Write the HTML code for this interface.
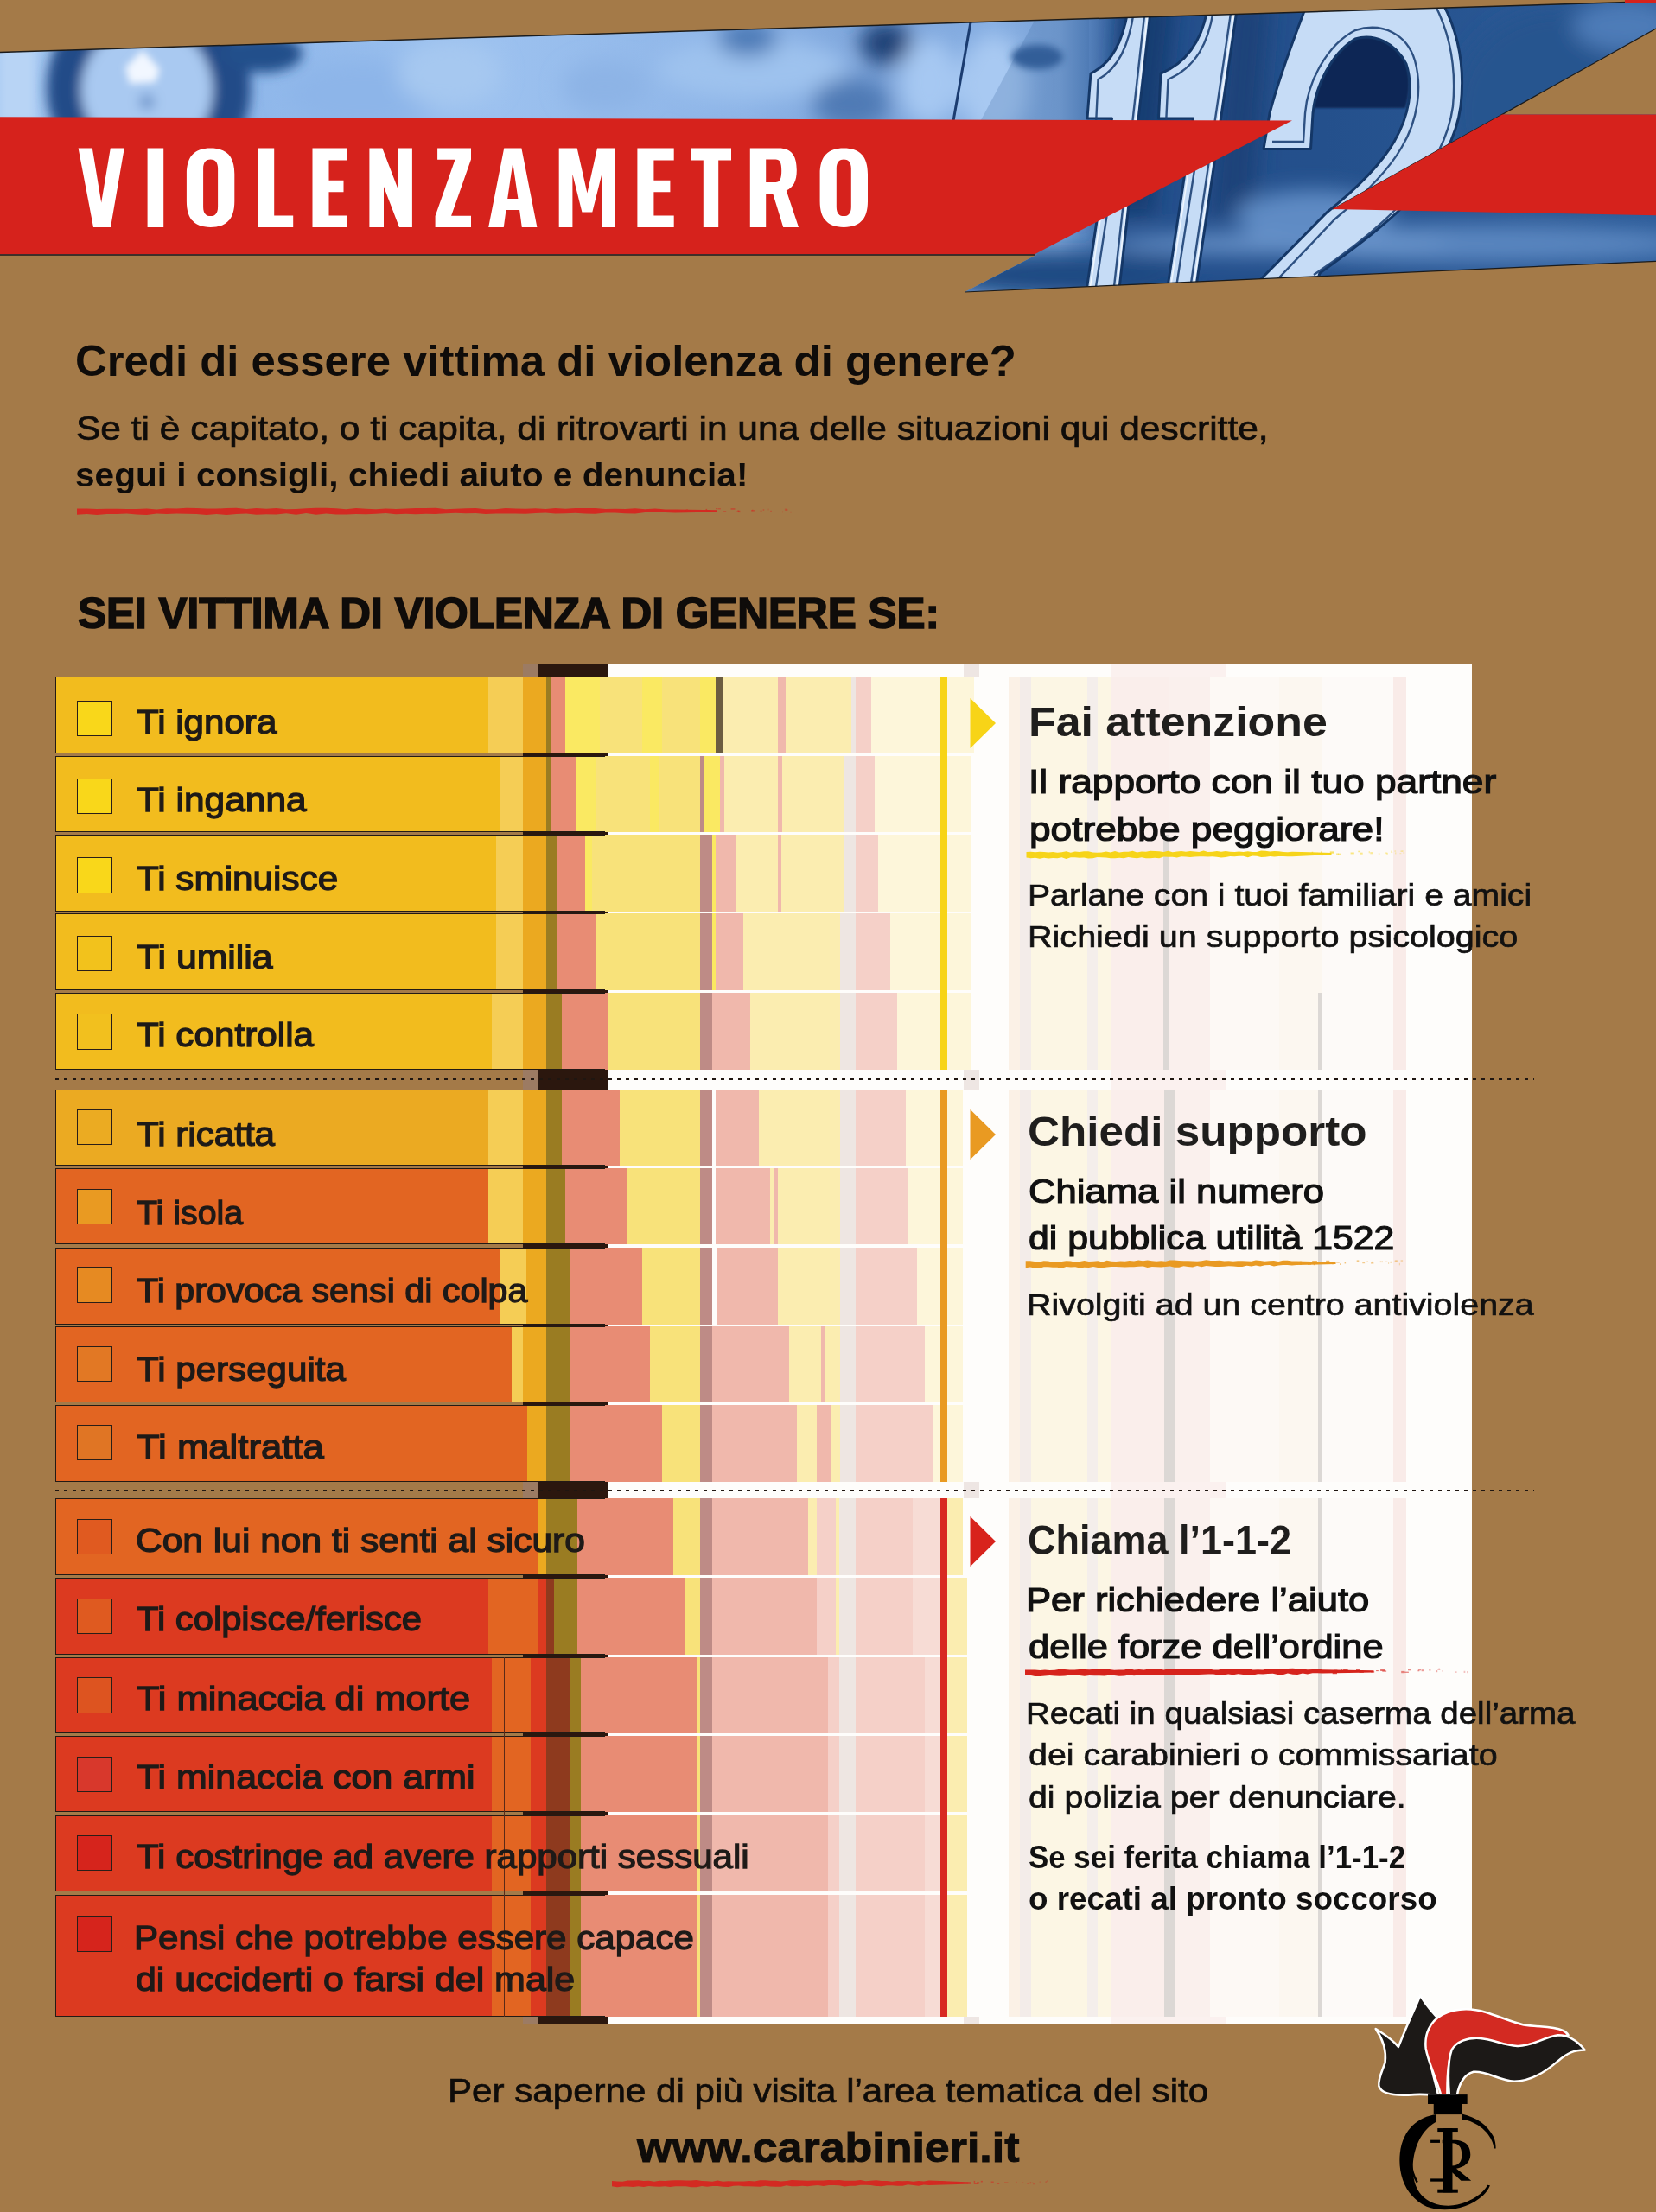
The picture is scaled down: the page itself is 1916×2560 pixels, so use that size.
<!DOCTYPE html><html><head><meta charset="utf-8"><title>Violenzametro</title><style>
html,body{margin:0;padding:0}
body{width:1916px;height:2560px;position:relative;overflow:hidden;background:#A47A48;font-family:"Liberation Sans",sans-serif}
.a{position:absolute}
.t{position:absolute;white-space:nowrap;transform-origin:0 0;line-height:1}
.cb{position:absolute;width:41px;height:41.3px;border:1px solid #2a1e18;box-sizing:border-box}
</style></head><body>
<svg class="a" style="left:0;top:0" width="1916" height="350" viewBox="0 0 1916 350">
<defs>
<clipPath id="bc"><polygon points="0,60.5 1916,1.5 1916,302.3 1116,338 1200,294.5 0,294.5"/></clipPath>
<filter id="bl" x="-30%" y="-30%" width="160%" height="160%"><feGaussianBlur stdDeviation="12"/></filter>
<filter id="bl2" x="-30%" y="-30%" width="160%" height="160%"><feGaussianBlur stdDeviation="4"/></filter>
<filter id="bl4" x="-30%" y="-30%" width="160%" height="160%"><feGaussianBlur stdDeviation="7"/></filter>
<filter id="bl3" x="-30%" y="-30%" width="160%" height="160%"><feGaussianBlur stdDeviation="1.2"/></filter>
<linearGradient id="bg1" x1="0" y1="0" x2="1916" y2="0" gradientUnits="userSpaceOnUse">
<stop offset="0" stop-color="#A9CAF2"/><stop offset="0.15" stop-color="#8FB7EA"/><stop offset="0.3" stop-color="#9CC1EF"/>
<stop offset="0.45" stop-color="#8DB4E7"/><stop offset="0.53" stop-color="#7CA4DA"/><stop offset="0.6" stop-color="#86AEE2"/>
<stop offset="0.64" stop-color="#7AA2D6"/><stop offset="0.655" stop-color="#5A86C0"/><stop offset="0.68" stop-color="#244F8C"/><stop offset="0.8" stop-color="#24508C"/><stop offset="1" stop-color="#2D5C99"/></linearGradient>
</defs>
<g clip-path="url(#bc)">
<rect x="0" y="0" width="1916" height="350" fill="url(#bg1)"/>
<g filter="url(#bl)">
<ellipse cx="420" cy="110" rx="90" ry="40" fill="#8DB5E9"/>
<ellipse cx="520" cy="85" rx="60" ry="40" fill="#A6C8F0"/>
<ellipse cx="700" cy="100" rx="50" ry="30" fill="#8DB4E6"/>
<ellipse cx="870" cy="80" rx="110" ry="35" fill="#9EC2EE"/>
<ellipse cx="865" cy="45" rx="35" ry="20" fill="#4A78B5"/>
<ellipse cx="1025" cy="50" rx="30" ry="25" fill="#1E3F75"/>
<ellipse cx="985" cy="120" rx="45" ry="30" fill="#4F7AB5"/>
<ellipse cx="1075" cy="95" rx="35" ry="50" fill="#A6C8F2"/>
<ellipse cx="1150" cy="100" rx="40" ry="60" fill="#A8C9F2"/>
<ellipse cx="1800" cy="130" rx="120" ry="120" fill="#26558F"/>
<polygon points="1300,0 1360,0 1335,250 1280,250" fill="#163D72"/>
<polygon points="1420,0 1470,0 1450,250 1400,250" fill="#1A4379"/>
<ellipse cx="1880" cy="30" rx="60" ry="30" fill="#4E7CB8"/>
<ellipse cx="1700" cy="282" rx="260" ry="22" fill="#5A86C0"/>
<ellipse cx="1230" cy="318" rx="150" ry="26" fill="#1F4A82"/>
<ellipse cx="1480" cy="282" rx="200" ry="12" fill="#6A94CB"/>
<ellipse cx="1520" cy="250" rx="90" ry="30" fill="#5F8BC4"/>
</g>
<rect x="0" y="40" width="40" height="100" fill="#B8D4F5" filter="url(#bl2)"/>
<g filter="url(#bl4)">
<circle cx="172" cy="102" r="118" fill="#214C88"/>
<ellipse cx="305" cy="62" rx="45" ry="22" fill="#23508B"/>
<circle cx="170" cy="104" r="76" fill="#A9C9F1"/>
<circle cx="170" cy="118" r="9" fill="#6E95CB"/>
</g>
<path d="M145,78 L165,58 L185,80 L180,95 L150,97 Z" fill="#F2F7FF" filter="url(#bl2)"/>
<ellipse cx="1200" cy="66" rx="30" ry="14" fill="#2E5A95" filter="url(#bl2)"/>
<polygon points="1199,20 1260,20 1260,150 1129,150" fill="#3F6AA5" opacity="0.25"/>
<line x1="1103" y1="140" x2="1124" y2="20" stroke="#1B3C70" stroke-width="3"/>
<!-- counter of the 2 -->
<path d="M1519,131 C1522,100 1540,62 1568,45 C1590,38 1615,50 1627,74 C1632,90 1631,110 1626,125 L1520,125 Z" fill="#0C2855" filter="url(#bl3)"/>
<!-- numerals -->
<g stroke="#143767" stroke-width="3" stroke-linejoin="round" fill="#C6DCF6">
<path d="M1255.8,345 L1286.5,137 L1258,137 L1262,85 C1285,74 1300,50 1306,5 L1332,5 L1293.8,345 Z"/>
<path d="M1349,345 L1380.5,137 L1340.5,137 L1343,85 C1375,72 1392,45 1398,5 L1432,5 L1382,345 Z"/>
<path d="M1462,172.4 L1516.5,172.4 L1519,131 C1522,100 1540,62 1568,45 C1590,38 1615,50 1627,74 C1636,102 1630,135 1613,164 C1595,195 1560,226 1535,246 L1452,330 L1448,345 L1518,345 L1527,316 C1570,285 1610,255 1636,226 C1665,195 1685,160 1690,123 C1695,80 1688,40 1670,5 L1512,5 C1500,37 1482,82 1469,131 Z"/>
</g>
<g stroke="#1D4276" stroke-width="2.4" fill="none" opacity="0.9">
<path d="M1266,345 L1296.5,145 L1268,145 L1270.5,92 C1292,80 1307,56 1313,5"/>
<path d="M1359,345 L1390,145 L1349,145 L1351.5,92 C1383,78 1399,51 1405,5"/>
<path d="M1472,164 L1508,164 L1510,131 C1513,95 1535,52 1568,35 C1600,25 1628,40 1637,70 C1646,102 1640,140 1622,170 C1604,202 1568,234 1544,254 L1466,336"/>
<path d="M1520,318 C1562,290 1602,258 1628,228 C1656,196 1676,160 1681,123 C1685,80 1678,40 1660,5"/>
<path d="M1287.5,345 L1325.5,5"/>
<path d="M1375.5,345 L1425.5,5"/>
</g>
<g stroke="#F4F9FF" stroke-width="1.6" fill="none" opacity="0.9">
<path d="M1259.5,345 L1290,140"/>
<path d="M1352.5,345 L1384,140"/>
<path d="M1291,345 L1329,5"/>
<path d="M1379,345 L1429,5"/>
</g>
</g>
<line x1="0" y1="60.5" x2="1916" y2="1.5" stroke="#1b1b1b" stroke-width="1.5"/>
<line x1="1116" y1="338" x2="1916" y2="302.3" stroke="#1b1b1b" stroke-width="1.2"/>
<polygon points="0,135.3 1495,139.6 1196.6,294.5 0,294.5" fill="#D6221C"/>
<line x1="0" y1="295" x2="1197" y2="295" stroke="#1b1b1b" stroke-width="1.5"/>
<polygon points="1738,132.4 1916,33 1916,132.4" fill="#A47A48"/>
<line x1="1542" y1="242" x2="1916" y2="33" stroke="#1b1b1b" stroke-width="1.2"/>
<polygon points="1541.8,242 1738,132.4 1916,132.4 1916,249.3" fill="#D6221C"/>
<rect x="1880" y="0" width="36" height="3" fill="#D6221C"/>
<path transform="translate(90.6,171.6)" d="M0,0 H16.2 L26.6,63 L37.2,0 H53.2 L37.4,91.3 H17.4 Z" fill="#FFFFFF" fill-rule="evenodd"/>
<path transform="translate(170.6,171.6)" d="M0,0 H18.6 V91.3 H0 Z" fill="#FFFFFF" fill-rule="evenodd"/>
<path transform="translate(215.9,171.6)" d="M27.6,0 C46,0 55.4,9 55.4,30 V61.3 C55.4,82 46,91.3 27.7,91.3 C9.4,91.3 0,82 0,61.3 V30 C0,9 9.4,0 27.6,0 Z M27.7,12.8 C32.4,12.8 36.2,15.5 36.2,23.5 V67.8 C36.2,75.8 32.4,78.5 27.7,78.5 C23,78.5 19.2,75.8 19.2,67.8 V23.5 C19.2,15.5 23,12.8 27.7,12.8 Z" fill="#FFFFFF" fill-rule="evenodd"/>
<path transform="translate(298.6,171.6)" d="M0,0 H18.6 V77.8 H40.6 V91.3 H0 Z" fill="#FFFFFF" fill-rule="evenodd"/>
<path transform="translate(361.5,171.6)" d="M0,0 H40.5 V13.8 H19 V37.2 H36 V50.6 H19 V77.8 H40.5 V91.3 H0 Z" fill="#FFFFFF" fill-rule="evenodd"/>
<path transform="translate(427.4,171.6)" d="M0,0 H15 L33,47 V0 H49.5 V91.3 H34.5 L16.6,44.3 V91.3 H0 Z" fill="#FFFFFF" fill-rule="evenodd"/>
<path transform="translate(503.6,171.6)" d="M2.5,0 H41.4 V13 L18.5,78.2 H41.4 V91.3 H0 V78.4 L22.9,13.2 H2.5 Z" fill="#FFFFFF" fill-rule="evenodd"/>
<path transform="translate(565.2,171.6)" d="M0,91.3 L18,0 H38.2 L56.2,91.3 H38.6 L35.9,71.5 H20.3 L17.6,91.3 Z M22,58.5 H34.2 L28.1,17 Z" fill="#FFFFFF" fill-rule="evenodd"/>
<path transform="translate(646.7,171.6)" d="M0,91.3 V0 H21 L32.7,52 L44.3,0 H65.3 V91.3 H49.6 V30 L38.6,74 H26.7 L15.7,30 V91.3 Z" fill="#FFFFFF" fill-rule="evenodd"/>
<path transform="translate(737.4,171.6)" d="M0,0 H42.3 V13.8 H19 V37.2 H38 V50.6 H19 V77.8 H42.3 V91.3 H0 Z" fill="#FFFFFF" fill-rule="evenodd"/>
<path transform="translate(799.0,171.6)" d="M0,0 H47 V13.8 H32.2 V91.3 H14.8 V13.8 H0 Z" fill="#FFFFFF" fill-rule="evenodd"/>
<path transform="translate(867.8,171.6)" d="M0,0 H33 C49,0 54,10 54,25.5 C54,38 50,45.5 42,49 L56.2,91.3 H38.4 L26.4,52.5 H18.4 V91.3 H0 Z M18.4,13 H29.5 C34.5,13 36.4,16.5 36.4,26 C36.4,35.5 34.5,39.5 29.5,39.5 H18.4 Z" fill="#FFFFFF" fill-rule="evenodd"/>
<path transform="translate(948.6,171.6)" d="M27.6,0 C46,0 55.4,9 55.4,30 V61.3 C55.4,82 46,91.3 27.7,91.3 C9.4,91.3 0,82 0,61.3 V30 C0,9 9.4,0 27.6,0 Z M27.7,12.8 C32.4,12.8 36.2,15.5 36.2,23.5 V67.8 C36.2,75.8 32.4,78.5 27.7,78.5 C23,78.5 19.2,75.8 19.2,67.8 V23.5 C19.2,15.5 23,12.8 27.7,12.8 Z" fill="#FFFFFF" fill-rule="evenodd"/>
</svg>
<svg class="a" style="left:0;top:0" width="1916" height="2560" viewBox="0 0 1916 2560" >
<polygon points="89.0,588.6 100.5,588.5 112.1,589.1 123.6,588.8 135.1,588.8 146.7,589.0 158.2,589.0 169.7,588.5 181.3,589.4 192.8,588.2 204.3,588.4 215.9,587.8 227.4,588.0 238.9,588.4 250.5,588.6 262.0,588.1 273.5,587.8 285.1,589.0 296.6,588.0 308.1,588.7 319.7,588.1 331.2,589.3 342.7,588.9 354.3,588.2 365.8,587.7 377.3,587.8 388.9,588.3 400.4,589.3 411.9,588.0 423.5,588.8 435.0,589.2 446.5,588.5 458.1,589.1 469.6,588.6 481.1,588.1 492.7,587.9 504.2,587.8 515.7,589.3 527.3,588.8 538.8,588.2 550.3,587.9 561.9,589.3 573.4,589.2 584.9,588.0 596.5,588.4 608.0,588.7 619.5,588.3 631.1,588.9 642.6,587.9 654.1,588.7 665.7,587.9 677.2,588.0 688.7,588.0 700.3,588.9 711.8,588.7 723.3,588.9 734.9,588.3 746.4,589.3 757.9,588.5 769.5,589.5 781.0,589.4 830.0,590.2 830.0,592.4 781.0,593.5 769.5,593.0 757.9,593.1 746.4,593.1 734.9,594.4 723.3,594.2 711.8,593.4 700.3,593.4 688.7,594.8 677.2,594.5 665.7,593.7 654.1,594.3 642.6,594.6 631.1,593.5 619.5,594.1 608.0,594.8 596.5,594.6 584.9,594.5 573.4,594.6 561.9,595.1 550.3,593.9 538.8,594.2 527.3,593.7 515.7,594.2 504.2,595.0 492.7,594.7 481.1,595.3 469.6,594.8 458.1,595.2 446.5,594.1 435.0,594.7 423.5,595.3 411.9,594.9 400.4,595.4 388.9,595.6 377.3,594.6 365.8,595.7 354.3,594.0 342.7,595.8 331.2,594.2 319.7,595.4 308.1,595.2 296.6,595.7 285.1,594.5 273.5,595.1 262.0,595.9 250.5,595.1 238.9,595.9 227.4,595.1 215.9,594.8 204.3,594.6 192.8,594.9 181.3,594.6 169.7,596.0 158.2,595.4 146.7,594.6 135.1,594.9 123.6,595.1 112.1,595.9 100.5,594.9 89.0,595.8" fill="#D32A22"/><rect x="905.0" y="591.4" width="0.8" height="1.9" fill="#D32A22" opacity="0.32"/><rect x="852.0" y="591.6" width="2.4" height="1.2" fill="#D32A22" opacity="0.55"/><rect x="793.8" y="590.6" width="5.3" height="2.2" fill="#D32A22" opacity="0.80"/><rect x="783.2" y="591.3" width="5.1" height="1.2" fill="#D32A22" opacity="0.84"/><rect x="882.7" y="589.1" width="1.5" height="1.8" fill="#D32A22" opacity="0.41"/><rect x="854.0" y="590.9" width="2.4" height="2.2" fill="#D32A22" opacity="0.54"/><rect x="907.9" y="588.6" width="2.6" height="2.2" fill="#D32A22" opacity="0.31"/><rect x="879.6" y="590.6" width="1.9" height="1.8" fill="#D32A22" opacity="0.43"/><rect x="888.7" y="588.7" width="0.8" height="1.7" fill="#D32A22" opacity="0.39"/><rect x="914.5" y="591.7" width="1.0" height="2.3" fill="#D32A22" opacity="0.28"/><rect x="870.0" y="589.7" width="1.3" height="1.6" fill="#D32A22" opacity="0.47"/><rect x="818.8" y="590.1" width="1.9" height="1.1" fill="#D32A22" opacity="0.69"/><rect x="816.6" y="588.9" width="1.5" height="1.3" fill="#D32A22" opacity="0.70"/><rect x="828.2" y="588.0" width="1.8" height="1.2" fill="#D32A22" opacity="0.65"/><rect x="908.6" y="588.4" width="0.8" height="2.3" fill="#D32A22" opacity="0.30"/><rect x="788.2" y="591.4" width="3.7" height="1.6" fill="#D32A22" opacity="0.82"/><rect x="817.2" y="590.9" width="5.6" height="1.7" fill="#D32A22" opacity="0.70"/><rect x="793.8" y="589.5" width="2.2" height="1.7" fill="#D32A22" opacity="0.80"/><rect x="830.5" y="588.3" width="3.4" height="1.0" fill="#D32A22" opacity="0.64"/><rect x="853.2" y="590.5" width="2.1" height="1.3" fill="#D32A22" opacity="0.54"/><rect x="837.1" y="591.3" width="3.0" height="1.7" fill="#D32A22" opacity="0.61"/><rect x="909.4" y="589.0" width="2.1" height="2.0" fill="#D32A22" opacity="0.30"/><rect x="869.0" y="590.0" width="4.2" height="1.6" fill="#D32A22" opacity="0.47"/><rect x="845.6" y="588.1" width="4.8" height="1.6" fill="#D32A22" opacity="0.57"/><rect x="891.1" y="590.8" width="1.9" height="2.0" fill="#D32A22" opacity="0.38"/><rect x="783.2" y="590.3" width="1.6" height="1.9" fill="#D32A22" opacity="0.84"/>
</svg>
<div class="a" style="left:605px;top:767.7px;width:1098px;height:1575.3px;background:#FEFDFB"></div>
<div class="a" style="left:605px;top:767.7px;width:98px;height:1575.3px;background:#2B170E"></div>
<div class="a" style="left:1096px;top:767.7px;width:607px;height:1575.3px;background:linear-gradient(90deg,#FEFDFB 0.0px 31.0px,#FEFDFB 31.0px 71.0px,#FBF1E6 71.0px 84.0px,#F3ECE9 84.0px 97.0px,#FCF6E4 97.0px 162.0px,#F4EEEB 162.0px 174.0px,#FCF6E4 174.0px 189.0px,#FAEEEB 189.0px 249.0px,#FAEEEB 249.0px 256.0px,#FAF0ED 256.0px 304.0px,#FDF9F5 304.0px 384.0px,#FCF7F0 384.0px 429.0px,#FCF7F0 429.0px 434.0px,#FDFAF8 434.0px 516.0px,#F9EBE8 516.0px 531.0px,#FEFDFB 531.0px 607.0px)"></div>
<div class="a" style="left:605px;top:767.7px;width:18px;height:15.5px;background:#9C7B63"></div>
<div class="a" style="left:623px;top:767.7px;width:80px;height:15.5px;background:#2B170E"></div>
<div class="a" style="left:703px;top:767.7px;width:1000px;height:15.5px;background:#FEFDFB"></div>
<div class="a" style="left:1115px;top:767.7px;width:18px;height:15.5px;background:#EEE6E3"></div>
<div class="a" style="left:1285px;top:767.7px;width:133px;height:15.5px;background:#FBF1EF"></div>
<div class="a" style="left:605px;top:1237.7px;width:18px;height:23.0px;background:#9C7B63"></div>
<div class="a" style="left:623px;top:1237.7px;width:80px;height:23.0px;background:#2B170E"></div>
<div class="a" style="left:703px;top:1237.7px;width:1000px;height:23.0px;background:#FEFDFB"></div>
<div class="a" style="left:1115px;top:1237.7px;width:18px;height:23.0px;background:#EEE6E3"></div>
<div class="a" style="left:1285px;top:1237.7px;width:133px;height:23.0px;background:#FBF1EF"></div>
<div class="a" style="left:605px;top:1715.3px;width:18px;height:18.600000000000136px;background:#9C7B63"></div>
<div class="a" style="left:623px;top:1715.3px;width:80px;height:18.600000000000136px;background:#2B170E"></div>
<div class="a" style="left:703px;top:1715.3px;width:1000px;height:18.600000000000136px;background:#FEFDFB"></div>
<div class="a" style="left:1115px;top:1715.3px;width:18px;height:18.600000000000136px;background:#EEE6E3"></div>
<div class="a" style="left:1285px;top:1715.3px;width:133px;height:18.600000000000136px;background:#FBF1EF"></div>
<div class="a" style="left:605px;top:2333.7px;width:18px;height:9.300000000000182px;background:#9C7B63"></div>
<div class="a" style="left:623px;top:2333.7px;width:80px;height:9.300000000000182px;background:#2B170E"></div>
<div class="a" style="left:703px;top:2333.7px;width:1000px;height:9.300000000000182px;background:#FEFDFB"></div>
<div class="a" style="left:1115px;top:2333.7px;width:18px;height:9.300000000000182px;background:#EEE6E3"></div>
<div class="a" style="left:1285px;top:2333.7px;width:133px;height:9.300000000000182px;background:#FBF1EF"></div>
<div class="a" style="left:64px;top:783.0px;width:1063px;height:89.39999999999998px;background:linear-gradient(90deg,#F2BC1E 0.0px 501.0px,#F5CD55 501.0px 541.0px,#EBA920 541.0px 568.0px,#9A7C22 568.0px 573.0px,#E88C74 573.0px 590.0px,#FAE962 590.0px 630.0px,#F8E27A 630.0px 679.0px,#FAE962 679.0px 702.0px,#F8E27A 702.0px 746.0px,#FAE962 746.0px 764.0px,#6C5D40 764.0px 773.0px,#FBEDB0 773.0px 836.0px,#F0B8AC 836.0px 845.0px,#FBEDB0 845.0px 921.0px,#EEE6E2 921.0px 926.0px,#F5D0C8 926.0px 944.0px,#FDF6DA 944.0px 1024.0px,#F7D417 1024.0px 1032.0px,#FDF6DA 1032.0px 1063.0px)"></div>
<div class="a" style="left:64px;top:783.0px;width:636px;height:89.39999999999998px;border:1.3px solid #231a15;border-right:none;box-sizing:border-box"></div>
<div class="a" style="left:64px;top:875.2px;width:1059px;height:88.09999999999991px;background:linear-gradient(90deg,#F2BC1E 0.0px 514.0px,#F5CD55 514.0px 541.0px,#EBA920 541.0px 568.0px,#9A7C22 568.0px 573.0px,#E88C74 573.0px 603.0px,#FAE962 603.0px 626.0px,#F8E27A 626.0px 688.0px,#FAE962 688.0px 698.0px,#F8E27A 698.0px 746.0px,#BE8B86 746.0px 751.0px,#FAE962 751.0px 769.0px,#F0B8AC 769.0px 774.0px,#FBEDB0 774.0px 836.0px,#F0B8AC 836.0px 841.0px,#FBEDB0 841.0px 912.0px,#EEE6E2 912.0px 926.0px,#F5D0C8 926.0px 948.0px,#FDF6DA 948.0px 1024.0px,#F7D417 1024.0px 1032.0px,#FDF6DA 1032.0px 1059.0px)"></div>
<div class="a" style="left:64px;top:875.2px;width:636px;height:88.09999999999991px;border:1.3px solid #231a15;border-right:none;box-sizing:border-box"></div>
<div class="a" style="left:64px;top:966.4px;width:1059px;height:88.60000000000002px;background:linear-gradient(90deg,#F2BC1E 0.0px 510.0px,#F5CD55 510.0px 541.0px,#EBA920 541.0px 568.0px,#9A7C22 568.0px 581.0px,#E88C74 581.0px 613.0px,#FAE962 613.0px 621.0px,#F8E27A 621.0px 746.0px,#BE8B86 746.0px 760.0px,#FAE962 760.0px 764.0px,#F0B8AC 764.0px 787.0px,#FBEDB0 787.0px 836.0px,#F0B8AC 836.0px 840.0px,#FBEDB0 840.0px 912.0px,#EEE6E2 912.0px 926.0px,#F5D0C8 926.0px 952.0px,#FDF6DA 952.0px 1024.0px,#F7D417 1024.0px 1032.0px,#FDF6DA 1032.0px 1059.0px)"></div>
<div class="a" style="left:64px;top:966.4px;width:636px;height:88.60000000000002px;border:1.3px solid #231a15;border-right:none;box-sizing:border-box"></div>
<div class="a" style="left:64px;top:1057.4px;width:1059px;height:88.79999999999995px;background:linear-gradient(90deg,#F2BC1E 0.0px 510.0px,#F5CD55 510.0px 541.0px,#EBA920 541.0px 568.0px,#9A7C22 568.0px 581.0px,#E88C74 581.0px 626.0px,#F8E27A 626.0px 746.0px,#BE8B86 746.0px 760.0px,#FAE962 760.0px 764.0px,#F0B8AC 764.0px 796.0px,#FBEDB0 796.0px 908.0px,#EEE6E2 908.0px 926.0px,#F5D0C8 926.0px 966.0px,#FDF6DA 966.0px 1024.0px,#F7D417 1024.0px 1032.0px,#FDF6DA 1032.0px 1059.0px)"></div>
<div class="a" style="left:64px;top:1057.4px;width:636px;height:88.79999999999995px;border:1.3px solid #231a15;border-right:none;box-sizing:border-box"></div>
<div class="a" style="left:64px;top:1149.0px;width:1059px;height:88.70000000000005px;background:linear-gradient(90deg,#F2BC1E 0.0px 505.0px,#F5CD55 505.0px 541.0px,#EBA920 541.0px 568.0px,#9A7C22 568.0px 586.0px,#E88C74 586.0px 639.0px,#F8E27A 639.0px 746.0px,#BE8B86 746.0px 760.0px,#F0B8AC 760.0px 804.0px,#FBEDB0 804.0px 908.0px,#EEE6E2 908.0px 926.0px,#F5D0C8 926.0px 974.0px,#FDF6DA 974.0px 1024.0px,#F7D417 1024.0px 1032.0px,#FDF6DA 1032.0px 1059.0px)"></div>
<div class="a" style="left:64px;top:1149.0px;width:636px;height:88.70000000000005px;border:1.3px solid #231a15;border-right:none;box-sizing:border-box"></div>
<div class="a" style="left:64px;top:1260.7px;width:1050px;height:88.59999999999991px;background:linear-gradient(90deg,#EBAA22 0.0px 501.0px,#F5CD55 501.0px 541.0px,#EBA920 541.0px 568.0px,#9A7C22 568.0px 586.0px,#E88C74 586.0px 653.0px,#F8E27A 653.0px 746.0px,#BE8B86 746.0px 760.0px,#FEFDFB 760.0px 764.0px,#F0B8AC 764.0px 814.0px,#FBEDB0 814.0px 908.0px,#EEE6E2 908.0px 926.0px,#F5D0C8 926.0px 984.0px,#FDF6DA 984.0px 1024.0px,#E99A22 1024.0px 1032.0px,#FDF6DA 1032.0px 1050.0px)"></div>
<div class="a" style="left:64px;top:1260.7px;width:636px;height:88.59999999999991px;border:1.3px solid #231a15;border-right:none;box-sizing:border-box"></div>
<div class="a" style="left:64px;top:1352.4px;width:1050px;height:88.09999999999991px;background:linear-gradient(90deg,#E26522 0.0px 501.0px,#F5CD55 501.0px 541.0px,#EBA920 541.0px 568.0px,#9A7C22 568.0px 590.0px,#E88C74 590.0px 662.0px,#F8E27A 662.0px 746.0px,#BE8B86 746.0px 760.0px,#FEFDFB 760.0px 764.0px,#F0B8AC 764.0px 827.0px,#FBEDB0 827.0px 831.0px,#F0B8AC 831.0px 836.0px,#FBEDB0 836.0px 908.0px,#EEE6E2 908.0px 926.0px,#F5D0C8 926.0px 987.0px,#FDF6DA 987.0px 1024.0px,#E99A22 1024.0px 1032.0px,#FDF6DA 1032.0px 1050.0px)"></div>
<div class="a" style="left:64px;top:1352.4px;width:636px;height:88.09999999999991px;border:1.3px solid #231a15;border-right:none;box-sizing:border-box"></div>
<div class="a" style="left:64px;top:1443.6px;width:1050px;height:89.10000000000014px;background:linear-gradient(90deg,#E26522 0.0px 514.0px,#F5CD55 514.0px 545.0px,#EBA920 545.0px 568.0px,#9A7C22 568.0px 595.0px,#E88C74 595.0px 679.0px,#F8E27A 679.0px 746.0px,#BE8B86 746.0px 760.0px,#FEFDFB 760.0px 765.0px,#F0B8AC 765.0px 836.0px,#FBEDB0 836.0px 908.0px,#EEE6E2 908.0px 926.0px,#F5D0C8 926.0px 997.0px,#FDF6DA 997.0px 1024.0px,#E99A22 1024.0px 1032.0px,#FDF6DA 1032.0px 1050.0px)"></div>
<div class="a" style="left:64px;top:1443.6px;width:636px;height:89.10000000000014px;border:1.3px solid #231a15;border-right:none;box-sizing:border-box"></div>
<div class="a" style="left:64px;top:1535.0px;width:1050px;height:88.20000000000005px;background:linear-gradient(90deg,#E26522 0.0px 528.0px,#F5CD55 528.0px 541.0px,#EBA920 541.0px 568.0px,#9A7C22 568.0px 595.0px,#E88C74 595.0px 688.0px,#F8E27A 688.0px 746.0px,#BE8B86 746.0px 760.0px,#F0B8AC 760.0px 849.0px,#FBEDB0 849.0px 886.0px,#F0B8AC 886.0px 891.0px,#FBEDB0 891.0px 908.0px,#EEE6E2 908.0px 926.0px,#F5D0C8 926.0px 1006.0px,#FDF6DA 1006.0px 1024.0px,#E99A22 1024.0px 1032.0px,#FDF6DA 1032.0px 1050.0px)"></div>
<div class="a" style="left:64px;top:1535.0px;width:636px;height:88.20000000000005px;border:1.3px solid #231a15;border-right:none;box-sizing:border-box"></div>
<div class="a" style="left:64px;top:1626.2px;width:1050px;height:89.09999999999991px;background:linear-gradient(90deg,#E26522 0.0px 546.0px,#EBA920 546.0px 568.0px,#9A7C22 568.0px 595.0px,#E88C74 595.0px 702.0px,#F8E27A 702.0px 746.0px,#BE8B86 746.0px 760.0px,#F0B8AC 760.0px 858.0px,#FBEDB0 858.0px 881.0px,#F0B8AC 881.0px 898.0px,#FBEDB0 898.0px 908.0px,#EEE6E2 908.0px 926.0px,#F5D0C8 926.0px 1015.0px,#FDF6DA 1015.0px 1024.0px,#E99A22 1024.0px 1032.0px,#FDF6DA 1032.0px 1050.0px)"></div>
<div class="a" style="left:64px;top:1626.2px;width:636px;height:89.09999999999991px;border:1.3px solid #231a15;border-right:none;box-sizing:border-box"></div>
<div class="a" style="left:64px;top:1733.9px;width:1050px;height:89.39999999999986px;background:linear-gradient(90deg,#E26522 0.0px 559.0px,#EBA920 559.0px 568.0px,#9A7C22 568.0px 604.0px,#E88C74 604.0px 715.0px,#F8E27A 715.0px 746.0px,#BE8B86 746.0px 760.0px,#F0B8AC 760.0px 871.0px,#FBEDB0 871.0px 881.0px,#F5D0C8 881.0px 903.0px,#FBEDB0 903.0px 907.0px,#EEE6E2 907.0px 926.0px,#F5D0C8 926.0px 992.0px,#F7DCD5 992.0px 1024.0px,#D82A22 1024.0px 1032.0px,#FBEDB0 1032.0px 1050.0px)"></div>
<div class="a" style="left:64px;top:1733.9px;width:636px;height:89.39999999999986px;border:1.3px solid #231a15;border-right:none;box-sizing:border-box"></div>
<div class="a" style="left:64px;top:1826.1px;width:1055px;height:88.70000000000005px;background:linear-gradient(90deg,#DC3A20 0.0px 501.0px,#E26522 501.0px 558.0px,#DC3A20 558.0px 568.0px,#8E3A1E 568.0px 577.0px,#9A7C22 577.0px 604.0px,#E88C74 604.0px 729.0px,#F8E27A 729.0px 746.0px,#BE8B86 746.0px 760.0px,#F0B8AC 760.0px 881.0px,#F5D0C8 881.0px 903.0px,#FBEDB0 903.0px 907.0px,#EEE6E2 907.0px 926.0px,#F5D0C8 926.0px 992.0px,#F7DCD5 992.0px 1024.0px,#D82A22 1024.0px 1032.0px,#FBEDB0 1032.0px 1055.0px)"></div>
<div class="a" style="left:64px;top:1826.1px;width:636px;height:88.70000000000005px;border:1.3px solid #231a15;border-right:none;box-sizing:border-box"></div>
<div class="a" style="left:64px;top:1917.6px;width:1055px;height:88.0px;background:linear-gradient(90deg,#DC3A20 0.0px 505.0px,#E26522 505.0px 550.0px,#DC3A20 550.0px 568.0px,#8E3A1E 568.0px 595.0px,#9A7C22 595.0px 608.0px,#E88C74 608.0px 742.0px,#F8E27A 742.0px 746.0px,#BE8B86 746.0px 760.0px,#F0B8AC 760.0px 894.0px,#F5D0C8 894.0px 907.0px,#EEE6E2 907.0px 926.0px,#F5D0C8 926.0px 1006.0px,#F7DCD5 1006.0px 1024.0px,#D82A22 1024.0px 1032.0px,#FBEDB0 1032.0px 1055.0px)"></div>
<div class="a" style="left:64px;top:1917.6px;width:636px;height:88.0px;border:1.3px solid #231a15;border-right:none;box-sizing:border-box"></div>
<div class="a" style="left:64px;top:2009.4px;width:1055px;height:87.90000000000009px;background:linear-gradient(90deg,#DC3A20 0.0px 505.0px,#E26522 505.0px 550.0px,#DC3A20 550.0px 568.0px,#8E3A1E 568.0px 595.0px,#9A7C22 595.0px 608.0px,#E88C74 608.0px 742.0px,#F8E27A 742.0px 746.0px,#BE8B86 746.0px 760.0px,#F0B8AC 760.0px 894.0px,#F5D0C8 894.0px 907.0px,#EEE6E2 907.0px 926.0px,#F5D0C8 926.0px 1006.0px,#F7DCD5 1006.0px 1024.0px,#D82A22 1024.0px 1032.0px,#FBEDB0 1032.0px 1055.0px)"></div>
<div class="a" style="left:64px;top:2009.4px;width:636px;height:87.90000000000009px;border:1.3px solid #231a15;border-right:none;box-sizing:border-box"></div>
<div class="a" style="left:64px;top:2100.5px;width:1055px;height:88.80000000000018px;background:linear-gradient(90deg,#DC3A20 0.0px 505.0px,#E26522 505.0px 550.0px,#DC3A20 550.0px 568.0px,#8E3A1E 568.0px 595.0px,#9A7C22 595.0px 608.0px,#E88C74 608.0px 742.0px,#F8E27A 742.0px 746.0px,#BE8B86 746.0px 760.0px,#F0B8AC 760.0px 894.0px,#F5D0C8 894.0px 907.0px,#EEE6E2 907.0px 926.0px,#F5D0C8 926.0px 1006.0px,#F7DCD5 1006.0px 1024.0px,#D82A22 1024.0px 1032.0px,#FBEDB0 1032.0px 1055.0px)"></div>
<div class="a" style="left:64px;top:2100.5px;width:636px;height:88.80000000000018px;border:1.3px solid #231a15;border-right:none;box-sizing:border-box"></div>
<div class="a" style="left:64px;top:2192.5px;width:1055px;height:141.19999999999982px;background:linear-gradient(90deg,#DC3A20 0.0px 505.0px,#E26522 505.0px 550.0px,#DC3A20 550.0px 568.0px,#8E3A1E 568.0px 595.0px,#9A7C22 595.0px 608.0px,#E88C74 608.0px 742.0px,#F8E27A 742.0px 746.0px,#BE8B86 746.0px 760.0px,#F0B8AC 760.0px 894.0px,#F5D0C8 894.0px 907.0px,#EEE6E2 907.0px 926.0px,#F5D0C8 926.0px 1006.0px,#F7DCD5 1006.0px 1024.0px,#D82A22 1024.0px 1032.0px,#FBEDB0 1032.0px 1055.0px)"></div>
<div class="a" style="left:64px;top:2192.5px;width:636px;height:141.19999999999982px;border:1.3px solid #231a15;border-right:none;box-sizing:border-box"></div>
<div class="a" style="left:1088px;top:784px;width:8px;height:453.70000000000005px;background:#F7D417"></div>
<div class="a" style="left:1088px;top:1261px;width:8px;height:454.29999999999995px;background:#E99A22"></div>
<div class="a" style="left:1088px;top:1734px;width:8px;height:599.6999999999998px;background:#D82A22"></div>
<div class="a" style="left:1346px;top:966.4px;width:6px;height:271.30000000000007px;background:#DCD8D5"></div>
<div class="a" style="left:1347px;top:1260.7px;width:12px;height:454.5999999999999px;background:#DCD8D5"></div>
<div class="a" style="left:1347px;top:1733.9px;width:12px;height:599.7999999999997px;background:#DCD8D5"></div>
<div class="a" style="left:1525px;top:1149px;width:5px;height:88.70000000000005px;background:#DCD8D5"></div>
<div class="a" style="left:1525px;top:1260.7px;width:5px;height:454.5999999999999px;background:#DCD8D5"></div>
<div class="a" style="left:1525px;top:1733.9px;width:5px;height:599.7999999999997px;background:#DCD8D5"></div>
<div class="a" style="left:582.5px;top:1917.6px;width:1px;height:416.0999999999999px;background:#5a2a18"></div>
<div class="a" style="left:64px;top:1248.2px;width:1711px;height:2.2px;background:repeating-linear-gradient(90deg,#1f1611 0 4px,transparent 4px 10px)"></div>
<div class="a" style="left:64px;top:1723.5px;width:1711px;height:2.2px;background:repeating-linear-gradient(90deg,#1f1611 0 4px,transparent 4px 10px)"></div>
<div class="cb" style="left:89.3px;top:810.5px;background:#F9D71A"></div>
<div class="cb" style="left:89.3px;top:901px;background:#F9D71A"></div>
<div class="cb" style="left:89.3px;top:992.3px;background:#F9D71A"></div>
<div class="cb" style="left:89.3px;top:1082.8px;background:#F2C21C"></div>
<div class="cb" style="left:89.3px;top:1173.3px;background:#F2C01E"></div>
<div class="cb" style="left:89.3px;top:1284.2px;background:#EBAB22"></div>
<div class="cb" style="left:89.3px;top:1375.6px;background:#E99A22"></div>
<div class="cb" style="left:89.3px;top:1466.4px;background:#E68A22"></div>
<div class="cb" style="left:89.3px;top:1557.8px;background:#E27824"></div>
<div class="cb" style="left:89.3px;top:1648.6px;background:#E07524"></div>
<div class="cb" style="left:89.3px;top:1757.6px;background:#E05A20"></div>
<div class="cb" style="left:89.3px;top:1850.2px;background:#DF5A20"></div>
<div class="cb" style="left:89.3px;top:1941.4px;background:#DD5420"></div>
<div class="cb" style="left:89.3px;top:2032.5px;background:#D8382C"></div>
<div class="cb" style="left:89.3px;top:2124.2px;background:#D6241C"></div>
<div class="cb" style="left:89.3px;top:2217.7px;background:#D6241C"></div>
<svg class="a" style="left:1122px;top:808px" width="32" height="58"><polygon points="0.5,0 30,29 0.5,58" fill="#F7D417"/></svg>
<svg class="a" style="left:1122px;top:1284px" width="32" height="58"><polygon points="0.5,0 30,29 0.5,58" fill="#E99A22"/></svg>
<svg class="a" style="left:1122px;top:1755px" width="32" height="58"><polygon points="0.5,0 30,29 0.5,58" fill="#D8231C"/></svg>
<svg class="a" style="left:0;top:0" width="1916" height="2560" viewBox="0 0 1916 2560">
<polygon points="1187.5,986.1 1192.6,985.7 1197.8,986.3 1202.9,985.8 1208.0,985.9 1213.1,986.6 1218.2,986.1 1223.4,986.7 1228.5,986.3 1233.6,985.3 1238.8,986.8 1243.9,985.6 1249.0,986.0 1254.1,985.3 1259.2,985.2 1264.4,986.4 1269.5,986.7 1274.6,986.5 1279.8,985.6 1284.9,986.4 1290.0,985.0 1295.1,986.4 1300.2,985.8 1305.4,985.7 1310.5,984.8 1315.6,986.4 1320.8,985.4 1325.9,985.8 1331.0,984.8 1336.1,985.1 1341.2,985.2 1346.4,985.9 1351.5,984.8 1356.6,986.2 1361.8,985.4 1366.9,984.9 1372.0,985.8 1377.1,984.9 1382.2,985.4 1387.4,986.1 1392.5,984.6 1397.6,986.0 1402.8,985.8 1407.9,985.1 1413.0,985.7 1418.1,984.9 1423.2,985.8 1428.4,986.0 1433.5,985.4 1438.6,986.1 1443.8,985.3 1448.9,986.1 1454.0,986.0 1459.1,984.6 1464.2,984.8 1469.4,985.6 1474.5,984.9 1479.6,985.3 1484.8,986.0 1489.9,986.3 1495.0,985.7 1540.5,987.0 1540.5,989.2 1495.0,991.2 1489.9,991.3 1484.8,991.1 1479.6,990.9 1474.5,991.4 1469.4,991.1 1464.2,991.8 1459.1,991.9 1454.0,990.8 1448.9,990.5 1443.8,992.2 1438.6,990.8 1433.5,990.7 1428.4,991.3 1423.2,991.1 1418.1,991.9 1413.0,992.5 1407.9,991.8 1402.8,991.2 1397.6,991.4 1392.5,991.3 1387.4,991.2 1382.2,991.4 1377.1,992.0 1372.0,991.5 1366.9,991.3 1361.8,992.6 1356.6,991.7 1351.5,991.8 1346.4,991.5 1341.2,993.2 1336.1,992.7 1331.0,993.2 1325.9,993.2 1320.8,992.3 1315.6,993.3 1310.5,992.7 1305.4,992.1 1300.2,993.2 1295.1,992.8 1290.0,993.2 1284.9,993.3 1279.8,992.4 1274.6,992.3 1269.5,992.0 1264.4,993.2 1259.2,993.4 1254.1,992.6 1249.0,992.8 1243.9,992.2 1238.8,992.3 1233.6,993.9 1228.5,992.2 1223.4,993.2 1218.2,993.1 1213.1,993.4 1208.0,992.7 1202.9,993.7 1197.8,992.7 1192.6,993.2 1187.5,992.6" fill="#F6D41A"/><rect x="1620.3" y="984.5" width="2.7" height="1.4" fill="#F6D41A" opacity="0.27"/><rect x="1528.9" y="988.4" width="1.3" height="2.1" fill="#F6D41A" opacity="0.69"/><rect x="1538.8" y="985.4" width="4.7" height="2.3" fill="#F6D41A" opacity="0.65"/><rect x="1573.2" y="986.7" width="3.5" height="2.0" fill="#F6D41A" opacity="0.49"/><rect x="1602.3" y="986.4" width="3.0" height="1.4" fill="#F6D41A" opacity="0.35"/><rect x="1614.1" y="986.4" width="1.3" height="2.0" fill="#F6D41A" opacity="0.30"/><rect x="1527.9" y="987.6" width="4.1" height="1.9" fill="#F6D41A" opacity="0.70"/><rect x="1546.1" y="987.6" width="2.9" height="1.2" fill="#F6D41A" opacity="0.61"/><rect x="1517.6" y="985.8" width="1.6" height="1.4" fill="#F6D41A" opacity="0.75"/><rect x="1609.8" y="985.9" width="1.4" height="1.1" fill="#F6D41A" opacity="0.32"/><rect x="1594.9" y="987.2" width="1.5" height="2.2" fill="#F6D41A" opacity="0.39"/><rect x="1583.7" y="985.1" width="1.1" height="2.2" fill="#F6D41A" opacity="0.44"/><rect x="1619.5" y="987.1" width="1.8" height="1.1" fill="#F6D41A" opacity="0.28"/><rect x="1532.1" y="988.1" width="1.8" height="1.4" fill="#F6D41A" opacity="0.68"/><rect x="1621.4" y="984.4" width="2.6" height="1.2" fill="#F6D41A" opacity="0.27"/><rect x="1609.2" y="984.6" width="1.3" height="2.2" fill="#F6D41A" opacity="0.32"/><rect x="1526.0" y="987.6" width="1.9" height="1.4" fill="#F6D41A" opacity="0.71"/><rect x="1603.8" y="987.2" width="2.2" height="1.5" fill="#F6D41A" opacity="0.35"/><rect x="1528.0" y="985.5" width="1.9" height="1.3" fill="#F6D41A" opacity="0.70"/><rect x="1523.2" y="987.6" width="4.0" height="1.1" fill="#F6D41A" opacity="0.72"/><rect x="1585.3" y="986.1" width="3.7" height="2.2" fill="#F6D41A" opacity="0.43"/><rect x="1623.3" y="986.2" width="1.9" height="1.6" fill="#F6D41A" opacity="0.26"/><rect x="1548.2" y="987.7" width="3.2" height="1.1" fill="#F6D41A" opacity="0.60"/><rect x="1571.3" y="984.7" width="2.5" height="1.5" fill="#F6D41A" opacity="0.50"/><rect x="1613.4" y="984.3" width="1.7" height="1.5" fill="#F6D41A" opacity="0.30"/><rect x="1562.6" y="986.5" width="4.2" height="1.9" fill="#F6D41A" opacity="0.54"/>
<polygon points="1186.7,1459.2 1191.9,1459.3 1197.1,1460.1 1202.4,1460.4 1207.6,1459.3 1212.8,1459.6 1218.0,1460.8 1223.3,1460.3 1228.5,1460.0 1233.7,1459.3 1238.9,1459.5 1244.1,1460.7 1249.4,1460.0 1254.6,1459.0 1259.8,1460.0 1265.0,1459.8 1270.2,1459.2 1275.5,1460.5 1280.7,1458.8 1285.9,1459.8 1291.1,1460.0 1296.4,1459.4 1301.6,1459.8 1306.8,1459.1 1312.0,1459.4 1317.2,1458.5 1322.5,1459.2 1327.7,1458.6 1332.9,1459.3 1338.1,1459.8 1343.3,1459.2 1348.6,1459.7 1353.8,1458.6 1359.0,1458.6 1364.2,1458.9 1369.5,1459.2 1374.7,1459.2 1379.9,1459.5 1385.1,1459.7 1390.3,1459.2 1395.6,1458.3 1400.8,1458.9 1406.0,1458.9 1411.2,1458.7 1416.5,1459.6 1421.7,1459.2 1426.9,1459.7 1432.1,1459.3 1437.3,1459.2 1442.6,1459.6 1447.8,1459.8 1453.0,1458.4 1458.2,1459.1 1463.4,1459.8 1468.7,1459.2 1473.9,1459.0 1479.1,1460.0 1484.3,1458.7 1489.6,1458.8 1494.8,1459.6 1500.0,1459.6 1545.5,1460.8 1545.5,1463.0 1500.0,1464.0 1494.8,1464.4 1489.6,1464.0 1484.3,1464.1 1479.1,1464.5 1473.9,1465.4 1468.7,1464.1 1463.4,1464.2 1458.2,1465.5 1453.0,1464.5 1447.8,1465.6 1442.6,1464.8 1437.3,1466.1 1432.1,1465.9 1426.9,1465.4 1421.7,1465.2 1416.5,1465.8 1411.2,1466.0 1406.0,1465.9 1400.8,1465.5 1395.6,1465.1 1390.3,1466.3 1385.1,1465.1 1379.9,1466.6 1374.7,1466.0 1369.5,1465.2 1364.2,1466.8 1359.0,1466.7 1353.8,1465.4 1348.6,1466.1 1343.3,1466.6 1338.1,1466.3 1332.9,1465.9 1327.7,1467.0 1322.5,1465.4 1317.2,1465.8 1312.0,1466.2 1306.8,1466.3 1301.6,1466.5 1296.4,1466.3 1291.1,1465.9 1285.9,1466.1 1280.7,1466.4 1275.5,1467.3 1270.2,1466.9 1265.0,1465.9 1259.8,1467.1 1254.6,1466.8 1249.4,1467.4 1244.1,1466.2 1238.9,1466.5 1233.7,1465.9 1228.5,1467.7 1223.3,1466.7 1218.0,1466.7 1212.8,1466.2 1207.6,1466.3 1202.4,1467.9 1197.1,1467.6 1191.9,1466.6 1186.7,1467.2" fill="#E99A22"/><rect x="1606.2" y="1460.8" width="0.9" height="2.2" fill="#E99A22" opacity="0.36"/><rect x="1576.3" y="1460.8" width="2.8" height="1.4" fill="#E99A22" opacity="0.50"/><rect x="1508.2" y="1460.8" width="3.2" height="1.4" fill="#E99A22" opacity="0.81"/><rect x="1569.7" y="1458.4" width="2.6" height="2.4" fill="#E99A22" opacity="0.53"/><rect x="1581.5" y="1459.4" width="1.2" height="1.5" fill="#E99A22" opacity="0.47"/><rect x="1587.7" y="1459.6" width="1.2" height="2.4" fill="#E99A22" opacity="0.45"/><rect x="1620.6" y="1458.1" width="2.5" height="1.9" fill="#E99A22" opacity="0.29"/><rect x="1546.1" y="1460.0" width="3.7" height="1.5" fill="#E99A22" opacity="0.64"/><rect x="1618.8" y="1461.9" width="1.2" height="2.4" fill="#E99A22" opacity="0.30"/><rect x="1613.5" y="1458.7" width="3.3" height="1.2" fill="#E99A22" opacity="0.33"/><rect x="1550.1" y="1462.3" width="1.5" height="1.6" fill="#E99A22" opacity="0.62"/><rect x="1596.8" y="1459.2" width="0.9" height="1.9" fill="#E99A22" opacity="0.40"/><rect x="1598.4" y="1459.4" width="1.5" height="1.7" fill="#E99A22" opacity="0.40"/><rect x="1555.6" y="1460.1" width="1.5" height="2.3" fill="#E99A22" opacity="0.59"/><rect x="1518.2" y="1459.1" width="5.7" height="1.4" fill="#E99A22" opacity="0.77"/><rect x="1505.8" y="1461.3" width="2.5" height="1.4" fill="#E99A22" opacity="0.82"/><rect x="1614.2" y="1458.3" width="2.5" height="1.6" fill="#E99A22" opacity="0.32"/><rect x="1519.8" y="1461.8" width="1.4" height="2.4" fill="#E99A22" opacity="0.76"/><rect x="1608.4" y="1459.8" width="2.3" height="2.0" fill="#E99A22" opacity="0.35"/><rect x="1586.1" y="1460.8" width="3.2" height="1.8" fill="#E99A22" opacity="0.45"/><rect x="1541.0" y="1461.7" width="2.6" height="1.5" fill="#E99A22" opacity="0.66"/><rect x="1534.2" y="1458.8" width="4.1" height="2.3" fill="#E99A22" opacity="0.69"/><rect x="1503.7" y="1459.7" width="2.3" height="1.3" fill="#E99A22" opacity="0.83"/><rect x="1602.6" y="1459.7" width="2.6" height="1.1" fill="#E99A22" opacity="0.38"/><rect x="1512.9" y="1462.3" width="4.0" height="1.5" fill="#E99A22" opacity="0.79"/><rect x="1503.4" y="1462.3" width="2.6" height="1.4" fill="#E99A22" opacity="0.83"/>
<polygon points="1186.0,1932.5 1191.7,1932.6 1197.5,1932.6 1203.2,1932.9 1208.9,1932.4 1214.7,1933.1 1220.4,1932.8 1226.1,1931.8 1231.9,1932.0 1237.6,1932.4 1243.3,1932.5 1249.1,1931.9 1254.8,1932.1 1260.5,1932.3 1266.3,1931.7 1272.0,1931.6 1277.7,1932.1 1283.5,1932.1 1289.2,1932.7 1294.9,1932.5 1300.7,1932.4 1306.4,1931.1 1312.1,1932.4 1317.9,1931.9 1323.6,1932.6 1329.3,1931.6 1335.1,1931.1 1340.8,1931.5 1346.5,1932.6 1352.3,1931.2 1358.0,1931.2 1363.7,1932.0 1369.5,1931.3 1375.2,1930.9 1380.9,1932.1 1386.7,1931.7 1392.4,1931.9 1398.1,1930.9 1403.9,1932.4 1409.6,1932.4 1415.3,1931.2 1421.1,1931.3 1426.8,1931.7 1432.5,1931.7 1438.3,1931.4 1444.0,1930.9 1449.7,1932.4 1455.5,1932.2 1461.2,1932.5 1466.9,1931.1 1472.7,1931.5 1478.4,1931.4 1484.1,1930.9 1489.9,1931.1 1495.6,1930.8 1501.3,1931.2 1507.1,1931.5 1512.8,1932.3 1518.5,1932.1 1524.3,1931.4 1530.0,1932.3 1589.5,1933.3 1589.5,1935.5 1530.0,1936.4 1524.3,1936.3 1518.5,1936.2 1512.8,1937.6 1507.1,1936.4 1501.3,1938.1 1495.6,1937.8 1489.9,1936.5 1484.1,1938.2 1478.4,1938.1 1472.7,1936.8 1466.9,1936.9 1461.2,1937.6 1455.5,1937.3 1449.7,1938.6 1444.0,1938.0 1438.3,1938.0 1432.5,1937.3 1426.8,1938.3 1421.1,1937.4 1415.3,1938.4 1409.6,1938.4 1403.9,1937.4 1398.1,1937.6 1392.4,1937.8 1386.7,1938.0 1380.9,1938.5 1375.2,1938.6 1369.5,1939.0 1363.7,1939.0 1358.0,1938.9 1352.3,1938.8 1346.5,1938.6 1340.8,1938.1 1335.1,1939.1 1329.3,1939.1 1323.6,1938.5 1317.9,1938.4 1312.1,1939.2 1306.4,1938.4 1300.7,1939.6 1294.9,1939.7 1289.2,1939.1 1283.5,1938.8 1277.7,1939.6 1272.0,1939.3 1266.3,1939.3 1260.5,1939.0 1254.8,1939.7 1249.1,1939.0 1243.3,1938.6 1237.6,1938.7 1231.9,1939.4 1226.1,1939.8 1220.4,1939.6 1214.7,1939.1 1208.9,1939.4 1203.2,1939.9 1197.5,1940.1 1191.7,1938.8 1186.0,1939.1" fill="#D6231C"/><rect x="1697.1" y="1934.0" width="0.9" height="2.2" fill="#D6231C" opacity="0.26"/><rect x="1592.1" y="1933.0" width="2.7" height="1.1" fill="#D6231C" opacity="0.63"/><rect x="1541.7" y="1934.9" width="5.3" height="2.3" fill="#D6231C" opacity="0.81"/><rect x="1554.1" y="1931.2" width="5.5" height="2.0" fill="#D6231C" opacity="0.76"/><rect x="1625.3" y="1934.6" width="4.6" height="1.4" fill="#D6231C" opacity="0.51"/><rect x="1663.1" y="1931.2" width="3.4" height="1.3" fill="#D6231C" opacity="0.38"/><rect x="1544.0" y="1932.6" width="3.4" height="2.2" fill="#D6231C" opacity="0.80"/><rect x="1569.0" y="1931.6" width="4.0" height="2.2" fill="#D6231C" opacity="0.71"/><rect x="1599.3" y="1933.4" width="4.8" height="1.3" fill="#D6231C" opacity="0.61"/><rect x="1566.9" y="1933.4" width="4.2" height="1.0" fill="#D6231C" opacity="0.72"/><rect x="1684.1" y="1934.3" width="1.4" height="1.6" fill="#D6231C" opacity="0.31"/><rect x="1653.3" y="1932.1" width="2.1" height="1.4" fill="#D6231C" opacity="0.41"/><rect x="1586.1" y="1934.4" width="4.1" height="1.1" fill="#D6231C" opacity="0.65"/><rect x="1572.5" y="1933.6" width="5.4" height="2.4" fill="#D6231C" opacity="0.70"/><rect x="1693.6" y="1933.8" width="1.7" height="2.2" fill="#D6231C" opacity="0.27"/><rect x="1543.4" y="1934.2" width="5.4" height="1.7" fill="#D6231C" opacity="0.80"/><rect x="1640.8" y="1931.8" width="3.3" height="1.5" fill="#D6231C" opacity="0.46"/><rect x="1668.5" y="1933.2" width="1.2" height="1.4" fill="#D6231C" opacity="0.36"/><rect x="1551.4" y="1932.2" width="1.8" height="2.1" fill="#D6231C" opacity="0.77"/><rect x="1621.2" y="1933.9" width="4.2" height="2.3" fill="#D6231C" opacity="0.53"/><rect x="1661.5" y="1933.1" width="1.7" height="2.1" fill="#D6231C" opacity="0.39"/><rect x="1640.4" y="1933.0" width="1.9" height="1.3" fill="#D6231C" opacity="0.46"/><rect x="1629.0" y="1932.0" width="3.3" height="1.3" fill="#D6231C" opacity="0.50"/><rect x="1664.3" y="1930.7" width="1.7" height="1.7" fill="#D6231C" opacity="0.38"/><rect x="1644.6" y="1932.2" width="3.3" height="2.0" fill="#D6231C" opacity="0.45"/><rect x="1597.1" y="1931.7" width="5.2" height="2.3" fill="#D6231C" opacity="0.61"/>
<polygon points="708.0,2524.1 714.1,2524.5 720.2,2524.7 726.4,2523.4 732.5,2523.6 738.6,2523.3 744.7,2523.9 750.8,2523.8 756.9,2524.8 763.0,2523.7 769.2,2523.9 775.3,2523.5 781.4,2523.2 787.5,2523.3 793.6,2523.6 799.8,2523.6 805.9,2523.1 812.0,2524.1 818.1,2524.2 824.2,2524.7 830.3,2523.4 836.5,2524.7 842.6,2524.2 848.7,2524.6 854.8,2524.5 860.9,2524.4 867.0,2523.9 873.1,2524.5 879.3,2523.2 885.4,2523.2 891.5,2523.8 897.6,2523.7 903.7,2524.5 909.9,2524.0 916.0,2523.1 922.1,2523.2 928.2,2523.4 934.3,2523.7 940.4,2523.6 946.5,2523.4 952.7,2523.6 958.8,2523.0 964.9,2523.3 971.0,2523.1 977.1,2523.7 983.2,2523.7 989.4,2523.7 995.5,2523.0 1001.6,2524.2 1007.7,2523.7 1013.8,2523.2 1020.0,2523.9 1026.1,2524.0 1032.2,2524.7 1038.3,2523.9 1044.4,2524.2 1050.5,2523.9 1056.7,2524.7 1062.8,2524.0 1068.9,2524.4 1075.0,2523.6 1124.0,2525.4 1124.0,2527.6 1075.0,2528.9 1068.9,2528.5 1062.8,2529.8 1056.7,2529.1 1050.5,2528.2 1044.4,2529.8 1038.3,2529.8 1032.2,2529.2 1026.1,2529.2 1020.0,2530.2 1013.8,2529.9 1007.7,2528.9 1001.6,2528.8 995.5,2528.8 989.4,2529.8 983.2,2529.8 977.1,2530.4 971.0,2529.3 964.9,2528.9 958.8,2529.0 952.7,2529.9 946.5,2529.0 940.4,2529.6 934.3,2530.2 928.2,2529.8 922.1,2530.2 916.0,2530.2 909.9,2529.2 903.7,2530.7 897.6,2530.8 891.5,2530.4 885.4,2529.7 879.3,2530.7 873.1,2530.4 867.0,2530.3 860.9,2530.3 854.8,2529.4 848.7,2529.7 842.6,2531.1 836.5,2530.7 830.3,2529.9 824.2,2530.1 818.1,2530.7 812.0,2529.9 805.9,2531.2 799.8,2531.2 793.6,2530.3 787.5,2530.2 781.4,2530.2 775.3,2531.1 769.2,2530.3 763.0,2530.7 756.9,2530.6 750.8,2530.1 744.7,2531.0 738.6,2530.2 732.5,2531.1 726.4,2530.4 720.2,2530.5 714.1,2531.3 708.0,2530.3" fill="#D32A22"/><rect x="1126.7" y="2523.9" width="1.4" height="2.0" fill="#D32A22" opacity="0.63"/><rect x="1130.0" y="2525.3" width="3.1" height="2.1" fill="#D32A22" opacity="0.61"/><rect x="1188.4" y="2526.7" width="2.5" height="1.3" fill="#D32A22" opacity="0.36"/><rect x="1175.2" y="2524.8" width="1.4" height="1.9" fill="#D32A22" opacity="0.42"/><rect x="1209.2" y="2525.4" width="1.7" height="1.5" fill="#D32A22" opacity="0.27"/><rect x="1195.1" y="2526.4" width="2.3" height="1.9" fill="#D32A22" opacity="0.34"/><rect x="1209.6" y="2524.0" width="1.7" height="1.6" fill="#D32A22" opacity="0.27"/><rect x="1103.5" y="2525.9" width="4.2" height="1.9" fill="#D32A22" opacity="0.73"/><rect x="1193.6" y="2525.7" width="1.7" height="1.1" fill="#D32A22" opacity="0.34"/><rect x="1211.3" y="2523.1" width="1.7" height="1.9" fill="#D32A22" opacity="0.27"/><rect x="1087.7" y="2524.6" width="6.3" height="1.5" fill="#D32A22" opacity="0.80"/><rect x="1182.5" y="2525.5" width="1.7" height="1.0" fill="#D32A22" opacity="0.39"/><rect x="1088.8" y="2525.1" width="2.0" height="2.4" fill="#D32A22" opacity="0.79"/><rect x="1162.1" y="2525.4" width="4.2" height="1.2" fill="#D32A22" opacity="0.48"/><rect x="1202.6" y="2524.4" width="1.3" height="1.7" fill="#D32A22" opacity="0.30"/><rect x="1146.7" y="2524.5" width="3.0" height="1.6" fill="#D32A22" opacity="0.54"/><rect x="1153.4" y="2526.4" width="2.8" height="1.6" fill="#D32A22" opacity="0.51"/><rect x="1118.5" y="2525.7" width="1.5" height="1.8" fill="#D32A22" opacity="0.66"/><rect x="1106.8" y="2525.6" width="3.1" height="2.3" fill="#D32A22" opacity="0.71"/><rect x="1085.4" y="2524.7" width="5.4" height="1.9" fill="#D32A22" opacity="0.81"/><rect x="1134.8" y="2523.9" width="2.1" height="1.6" fill="#D32A22" opacity="0.59"/><rect x="1191.7" y="2525.0" width="1.3" height="2.2" fill="#D32A22" opacity="0.35"/><rect x="1082.2" y="2525.5" width="2.1" height="1.2" fill="#D32A22" opacity="0.82"/><rect x="1126.8" y="2526.4" width="5.3" height="1.5" fill="#D32A22" opacity="0.63"/><rect x="1075.3" y="2525.5" width="3.7" height="2.1" fill="#D32A22" opacity="0.85"/><rect x="1078.1" y="2526.8" width="2.9" height="1.0" fill="#D32A22" opacity="0.84"/>
</svg>
<div class="t" id="t0" style="left:87.0px;top:393.2px;font-size:50.5px;font-weight:bold;color:#0F0C0A;transform:scaleX(1.0078)">Credi di essere vittima di violenza di genere?</div>
<div class="t" id="t1" style="left:87.9px;top:476.7px;font-size:38.18255813953488px;font-weight:normal;color:#0F0C0A;-webkit-text-stroke:0.7px #0F0C0A;transform:scaleX(1.1134)">Se ti è capitato, o ti capita, di ritrovarti in una delle situazioni qui descritte,</div>
<div class="t" id="t2" style="left:86.9px;top:530.3px;font-size:39.2px;font-weight:bold;color:#0F0C0A;transform:scaleX(1.0362)">segui i consigli, chiedi aiuto e denuncia!</div>
<div class="t" id="t3" style="left:90.0px;top:684.8px;font-size:49.174418604651166px;font-weight:bold;color:#0F0C0A;-webkit-text-stroke:1.6px #0F0C0A;transform:scaleX(1.0066)">SEI VITTIMA DI VIOLENZA DI GENERE SE:</div>
<div class="t" id="t4" style="left:158.3px;top:815.9px;font-size:39.61046511627907px;font-weight:normal;color:#1E1A18;-webkit-text-stroke:1.3px #1E1A18;transform:scaleX(1.0634)">Ti ignora</div>
<div class="t" id="t5" style="left:158.3px;top:905.8px;font-size:39.61046511627907px;font-weight:normal;color:#1E1A18;-webkit-text-stroke:1.3px #1E1A18;transform:scaleX(1.0717)">Ti inganna</div>
<div class="t" id="t6" style="left:158.3px;top:997.1px;font-size:39.61046511627907px;font-weight:normal;color:#1E1A18;-webkit-text-stroke:1.3px #1E1A18;transform:scaleX(1.0665)">Ti sminuisce</div>
<div class="t" id="t7" style="left:158.3px;top:1087.8px;font-size:39.61046511627907px;font-weight:normal;color:#1E1A18;-webkit-text-stroke:1.3px #1E1A18;transform:scaleX(1.0796)">Ti umilia</div>
<div class="t" id="t8" style="left:158.3px;top:1178.2px;font-size:39.61046511627907px;font-weight:normal;color:#1E1A18;-webkit-text-stroke:1.3px #1E1A18;transform:scaleX(1.0668)">Ti controlla</div>
<div class="t" id="t9" style="left:158.3px;top:1293.0px;font-size:39.61046511627907px;font-weight:normal;color:#1E1A18;-webkit-text-stroke:1.3px #1E1A18;transform:scaleX(1.0642)">Ti ricatta</div>
<div class="t" id="t10" style="left:158.3px;top:1383.7px;font-size:39.61046511627907px;font-weight:normal;color:#1E1A18;-webkit-text-stroke:1.3px #1E1A18;transform:scaleX(0.9936)">Ti isola</div>
<div class="t" id="t11" style="left:158.3px;top:1474.2px;font-size:39.61046511627907px;font-weight:normal;color:#1E1A18;-webkit-text-stroke:1.3px #1E1A18;transform:scaleX(1.0414)">Ti provoca sensi di colpa</div>
<div class="t" id="t12" style="left:158.3px;top:1565.0px;font-size:39.61046511627907px;font-weight:normal;color:#1E1A18;-webkit-text-stroke:1.3px #1E1A18;transform:scaleX(1.0632)">Ti perseguita</div>
<div class="t" id="t13" style="left:158.3px;top:1655.3px;font-size:39.61046511627907px;font-weight:normal;color:#1E1A18;-webkit-text-stroke:1.3px #1E1A18;transform:scaleX(1.1025)">Ti maltratta</div>
<div class="t" id="t14" style="left:157.2px;top:1763.2px;font-size:39.61046511627907px;font-weight:normal;color:#1E1A18;-webkit-text-stroke:1.3px #1E1A18;transform:scaleX(1.0734)">Con lui non ti senti al sicuro</div>
<div class="t" id="t15" style="left:158.3px;top:1854.1px;font-size:39.61046511627907px;font-weight:normal;color:#1E1A18;-webkit-text-stroke:1.3px #1E1A18;transform:scaleX(1.0535)">Ti colpisce/ferisce</div>
<div class="t" id="t16" style="left:158.3px;top:1945.8px;font-size:39.61046511627907px;font-weight:normal;color:#1E1A18;-webkit-text-stroke:1.3px #1E1A18;transform:scaleX(1.0943)">Ti minaccia di morte</div>
<div class="t" id="t17" style="left:158.3px;top:2037.2px;font-size:39.61046511627907px;font-weight:normal;color:#1E1A18;-webkit-text-stroke:1.3px #1E1A18;transform:scaleX(1.0825)">Ti minaccia con armi</div>
<div class="t" id="t18" style="left:158.3px;top:2128.6px;font-size:39.61046511627907px;font-weight:normal;color:#1E1A18;-webkit-text-stroke:1.3px #1E1A18;transform:scaleX(1.0611)">Ti costringe ad avere rapporti sessuali</div>
<div class="t" id="t19" style="left:155.1px;top:2222.6px;font-size:39.61046511627907px;font-weight:normal;color:#1E1A18;-webkit-text-stroke:1.3px #1E1A18;transform:scaleX(1.0622)">Pensi che potrebbe essere capace</div>
<div class="t" id="t20" style="left:157.2px;top:2271.3px;font-size:39.61046511627907px;font-weight:normal;color:#1E1A18;-webkit-text-stroke:1.3px #1E1A18;transform:scaleX(1.0837)">di ucciderti o farsi del male</div>
<div class="t" id="t21" style="left:1189.8px;top:811.2px;font-size:49.0px;font-weight:bold;color:#1F1E1D;transform:scaleX(1.0584)">Fai attenzione</div>
<div class="t" id="t22" style="left:1189.5px;top:886.2px;font-size:38.25581395348837px;font-weight:normal;color:#111;-webkit-text-stroke:1.2px #111;transform:scaleX(1.1570)">Il rapporto con il tuo partner</div>
<div class="t" id="t23" style="left:1190.7px;top:940.9px;font-size:38.25581395348837px;font-weight:normal;color:#111;-webkit-text-stroke:1.2px #111;transform:scaleX(1.1557)">potrebbe peggiorare!</div>
<div class="t" id="t24" style="left:1189.1px;top:1019.4px;font-size:35.88255813953488px;font-weight:normal;color:#111;-webkit-text-stroke:0.7px #111;transform:scaleX(1.0913)">Parlane con i tuoi familiari e amici</div>
<div class="t" id="t25" style="left:1189.1px;top:1066.9px;font-size:35.88255813953488px;font-weight:normal;color:#111;-webkit-text-stroke:0.7px #111;transform:scaleX(1.1025)">Richiedi un supporto psicologico</div>
<div class="t" id="t26" style="left:1188.9px;top:1284.7px;font-size:49.0px;font-weight:bold;color:#1F1E1D;transform:scaleX(1.0452)">Chiedi supporto</div>
<div class="t" id="t27" style="left:1189.9px;top:1359.9px;font-size:38.25581395348837px;font-weight:normal;color:#111;-webkit-text-stroke:1.2px #111;transform:scaleX(1.1409)">Chiama il numero</div>
<div class="t" id="t28" style="left:1189.9px;top:1414.1px;font-size:38.25581395348837px;font-weight:normal;color:#111;-webkit-text-stroke:1.2px #111;transform:scaleX(1.1184)">di pubblica utilità 1522</div>
<div class="t" id="t29" style="left:1187.7px;top:1493.3px;font-size:35.88255813953488px;font-weight:normal;color:#111;-webkit-text-stroke:0.7px #111;transform:scaleX(1.0977)">Rivolgiti ad un centro antiviolenza</div>
<div class="t" id="t30" style="left:1188.8px;top:1757.5px;font-size:49.0px;font-weight:bold;color:#1F1E1D;transform:scaleX(0.9183)">Chiama l’1-1-2</div>
<div class="t" id="t31" style="left:1187.2px;top:1832.7px;font-size:38.25581395348837px;font-weight:normal;color:#111;-webkit-text-stroke:1.2px #111;transform:scaleX(1.1394)">Per richiedere l’aiuto</div>
<div class="t" id="t32" style="left:1189.5px;top:1886.8px;font-size:38.25581395348837px;font-weight:normal;color:#111;-webkit-text-stroke:1.2px #111;transform:scaleX(1.1358)">delle forze dell’ordine</div>
<div class="t" id="t33" style="left:1187.4px;top:1966.3px;font-size:35.88255813953488px;font-weight:normal;color:#111;-webkit-text-stroke:0.7px #111;transform:scaleX(1.0731)">Recati in qualsiasi caserma dell’arma</div>
<div class="t" id="t34" style="left:1189.5px;top:2013.6px;font-size:35.88255813953488px;font-weight:normal;color:#111;-webkit-text-stroke:0.7px #111;transform:scaleX(1.0972)">dei carabinieri o commissariato</div>
<div class="t" id="t35" style="left:1189.5px;top:2062.5px;font-size:35.88255813953488px;font-weight:normal;color:#111;-webkit-text-stroke:0.7px #111;transform:scaleX(1.0947)">di polizia per denunciare.</div>
<div class="t" id="t36" style="left:1189.7px;top:2131.8px;font-size:36.9px;font-weight:bold;color:#111;transform:scaleX(0.9453)">Se sei ferita chiama l’1-1-2</div>
<div class="t" id="t37" style="left:1189.6px;top:2179.8px;font-size:36.9px;font-weight:bold;color:#111;transform:scaleX(0.9981)">o recati al pronto soccorso</div>
<div class="t" id="t38" style="left:517.8px;top:2400.2px;font-size:39.48255813953488px;font-weight:normal;color:#0F0C0A;-webkit-text-stroke:0.7px #0F0C0A;transform:scaleX(1.0670)">Per saperne di più visita l’area tematica del sito</div>
<div class="t" id="t39" style="left:737.1px;top:2461.4px;font-size:48.54651162790697px;font-weight:bold;color:#0F0C0A;-webkit-text-stroke:1.0px #0F0C0A;transform:scaleX(1.0700)">www.carabinieri.it</div>
<svg class="a" style="left:1560px;top:2300px" width="300" height="260" viewBox="0 0 1656 1435">
<g stroke="#FFFFFF" stroke-width="14" stroke-linejoin="round">
<path d="M575,690 C555,600 515,480 508,380 C505,300 530,240 578,205 C540,160 490,110 460,50 C430,130 390,200 320,380 C280,330 230,300 175,265 C220,330 245,400 235,480 C215,540 190,580 195,630 C210,680 300,695 420,685 C480,680 540,688 575,690 Z" fill="#1C1917"/>
<path d="M592,690 C570,600 510,480 495,390 C485,300 520,220 600,175 C680,135 780,130 880,160 C960,185 1040,220 1120,240 C1220,255 1300,245 1370,275 C1390,285 1400,295 1405,305 C1330,330 1240,340 1160,370 C1060,390 960,370 860,345 C780,335 700,345 665,400 C640,460 630,560 632,690 Z" fill="#D32A22"/>
<path d="M645,690 C638,600 635,470 660,400 C690,345 760,320 840,325 C920,330 990,370 1080,375 C1180,378 1250,315 1340,305 C1420,305 1470,350 1510,400 C1440,400 1400,420 1340,470 C1260,540 1160,600 1060,600 C960,595 880,530 800,540 C740,555 705,620 695,690 Z" fill="#1C1917"/>
</g>
<rect x="508" y="685" width="252" height="60" fill="#000"/>
<rect x="545" y="740" width="180" height="72" fill="#000"/>
<path d="M560,812 C450,830 350,900 330,1060 C315,1200 370,1340 500,1400 C610,1440 760,1420 860,1330 C880,1310 895,1290 905,1265 L890,1262 C860,1320 760,1390 640,1395 C520,1395 430,1330 415,1200 C400,1070 450,920 560,860 Z" fill="#000"/>
<path d="M725,808 C820,830 890,880 925,950 C938,975 942,1005 942,1030 L930,1030 C925,960 860,880 760,850 L725,845 Z" fill="#000"/>
<path d="M430,990 C395,1060 385,1150 440,1245" fill="none" stroke="#000" stroke-width="14"/>
<g fill="#000">
<rect x="605" y="900" width="60" height="410"/>
<rect x="570" y="900" width="130" height="22"/>
<rect x="570" y="1290" width="130" height="22"/>
<rect x="525" y="975" width="60" height="18"/>
<rect x="525" y="1222" width="90" height="18"/>
<path d="M600,975 L670,975 C760,975 780,1020 780,1070 C780,1120 740,1150 690,1158 L770,1222 L785,1235 L720,1235 L640,1160 L620,1160 L620,1140 L660,1140 C710,1140 725,1110 725,1070 C725,1020 705,995 660,995 L600,995 Z"/>
</g>
</svg>
</body></html>
